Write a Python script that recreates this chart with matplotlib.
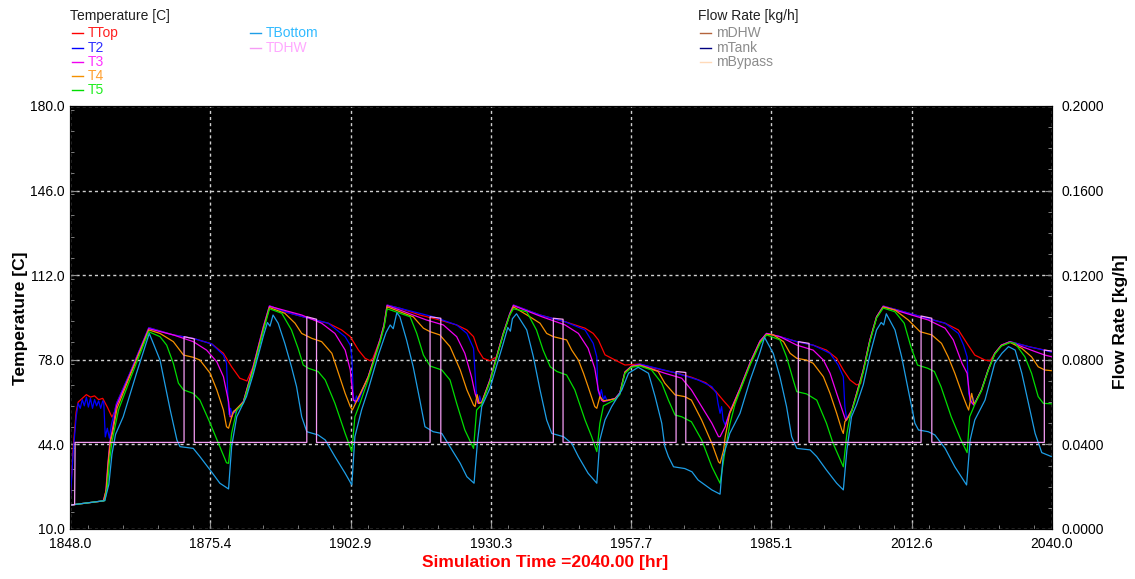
import matplotlib
matplotlib.use('Agg')
import matplotlib.pyplot as plt
from matplotlib.lines import Line2D
from matplotlib.ticker import MultipleLocator

plt.rcParams['font.family'] = ['Liberation Sans', 'DejaVu Sans']

W, H = 1135, 579

# axis ranges
time_start, time_end = 1848.0, 2040.0
temp_min, temp_max = 10.0, 180.0
flow_min, flow_max = 0.0, 0.2
sim_time_label = 'Simulation Time =2040.00 [hr]'

# (time [hr], temperature [C]) per sensor
ttop = [(1848.0, 19.6), (1848.6, 42.0), (1849.2, 57.0), (1849.6, 61.0), (1850.4, 62.5), (1851.2, 64.0),
        (1852.0, 63.0), (1852.8, 63.5), (1853.6, 62.0), (1854.4, 62.5), (1855.3, 59.0), (1856.2, 55.0),
        (1856.7, 57.0), (1857.1, 60.5), (1859.7, 72.6), (1863.4, 90.9),
        (1868.2, 88.0), (1872.1, 86.6), (1875.7, 84.4), (1878.0, 80.6), (1879.6, 75.2), (1881.2, 70.6),
        (1882.6, 69.5), (1883.8, 75.2), (1885.8, 91.3), (1887.0, 99.7),
        (1890.0, 97.3), (1894.6, 94.7), (1898.5, 92.7), (1901.1, 90.0), (1902.8, 87.3), (1904.4, 81.9),
        (1905.7, 78.6), (1906.7, 77.6), (1907.2, 78.5), (1908.6, 86.0), (1909.4, 92.0), (1910.0, 100.0),
        (1912.5, 98.7), (1916.4, 96.0), (1920.3, 94.0), (1923.6, 92.0), (1925.6, 90.0), (1926.9, 87.3),
        (1927.8, 81.9), (1928.8, 78.6), (1930.1, 77.6), (1931.4, 79.2), (1932.7, 88.6), (1934.0, 96.7),
        (1934.7, 100.0),
        (1939.9, 96.0), (1944.8, 93.3), (1948.7, 90.7), (1950.3, 88.6), (1951.3, 86.0), (1952.6, 80.0),
        (1954.6, 77.9), (1956.5, 75.9), (1959.4, 76.3),
        (1962.4, 74.6), (1966.3, 72.8), (1969.5, 71.0), (1972.3, 68.8), (1974.3, 65.2), (1975.8, 61.5),
        (1976.8, 59.2), (1977.3, 57.8), (1979.0, 66.5), (1981.0, 77.0), (1982.9, 85.5), (1984.2, 88.6),
        (1986.8, 87.3), (1990.1, 85.3), (1993.3, 83.9), (1995.9, 81.9), (1997.9, 78.6), (1999.2, 73.9),
        (2000.5, 69.9), (2001.8, 67.9), (2002.6, 68.5), (2003.1, 73.9), (2004.4, 86.0), (2005.7, 95.3),
        (2007.0, 99.6),
        (2009.3, 98.3), (2014.5, 95.3), (2019.1, 92.7), (2021.7, 90.0), (2023.6, 83.9), (2024.9, 79.9),
        (2026.9, 77.9), (2027.9, 77.6), (2028.8, 80.6), (2030.1, 83.9), (2031.8, 85.3), (2035.4, 83.3),
        (2038.6, 81.9), (2040.0, 81.3)]

t2 = [(1848.0, 19.6), (1848.6, 40.0), (1849.2, 55.0), (1849.6, 60.5), (1850.0, 58.5), (1850.4, 62.0),
      (1850.8, 59.5), (1851.2, 63.0), (1851.6, 59.0), (1852.0, 62.5), (1852.4, 58.5), (1852.8, 62.0),
      (1853.2, 59.5), (1853.6, 61.5), (1854.0, 58.5), (1854.4, 61.5), (1854.6, 61.0), (1854.9, 47.0),
      (1855.3, 50.5), (1855.7, 46.5), (1856.1, 52.0), (1856.5, 55.5), (1857.1, 60.5), (1859.7, 72.6),
      (1863.4, 90.9),
      (1868.2, 88.0), (1872.1, 86.6), (1875.7, 84.4), (1878.0, 79.9), (1878.6, 76.6), (1878.9, 62.0),
      (1879.1, 56.0), (1879.4, 58.5), (1879.7, 55.5), (1880.0, 57.5), (1880.3, 56.6), (1881.9, 61.2),
      (1883.8, 75.2), (1885.8, 91.3), (1887.0, 99.7),
      (1890.0, 97.3), (1894.6, 94.7), (1898.5, 92.7), (1901.8, 87.3), (1902.8, 83.9), (1903.1, 79.2),
      (1903.4, 63.2), (1903.7, 60.5), (1904.0, 63.5), (1904.4, 61.2), (1904.7, 63.0), (1906.3, 71.2),
      (1908.6, 86.0), (1909.4, 92.0), (1910.0, 100.0),
      (1912.5, 98.7), (1919.0, 95.3), (1923.6, 92.0), (1925.6, 88.6), (1926.9, 82.6), (1927.4, 65.9),
      (1927.6, 63.0), (1927.9, 60.5), (1928.1, 63.5), (1928.5, 60.5), (1930.1, 69.9), (1931.4, 79.2),
      (1932.7, 88.6), (1934.0, 96.7), (1934.7, 100.0),
      (1939.9, 96.0), (1944.8, 93.3), (1948.7, 90.0), (1950.3, 84.6), (1951.0, 79.2), (1951.2, 65.9),
      (1951.6, 63.2), (1951.9, 66.0), (1952.3, 61.8), (1952.6, 63.5), (1953.0, 61.5), (1954.6, 62.5),
      (1955.5, 64.7), (1956.5, 73.1), (1957.8, 75.5), (1959.4, 76.3),
      (1966.3, 72.8), (1970.8, 69.9), (1973.5, 67.2), (1974.4, 64.5), (1974.7, 60.5), (1975.1, 56.5),
      (1975.4, 59.2), (1975.7, 53.8), (1976.1, 51.8), (1977.0, 57.0), (1979.0, 66.5), (1981.0, 77.0),
      (1982.9, 85.5), (1984.2, 88.6),
      (1986.8, 87.3), (1990.1, 85.3), (1993.3, 83.9), (1996.6, 80.6), (1998.2, 75.9), (1999.2, 71.2),
      (1999.5, 59.2), (1999.9, 53.8), (2000.2, 55.5), (2000.5, 54.5), (2000.9, 58.0), (2001.8, 64.5),
      (2003.1, 73.9), (2004.4, 86.0), (2005.7, 95.3), (2007.0, 99.6),
      (2009.3, 98.3), (2014.5, 95.3), (2019.1, 92.7), (2021.7, 88.6), (2022.7, 83.9), (2023.4, 79.2),
      (2023.7, 64.5), (2024.2, 60.5), (2024.5, 63.0), (2024.9, 60.5), (2026.2, 65.9), (2027.5, 73.9),
      (2028.8, 80.6), (2030.1, 83.9), (2031.8, 85.3), (2035.4, 83.3), (2038.6, 81.8), (2040.0, 81.0)]

t3 = [(1848.0, 19.6), (1854.5, 21.3), (1855.0, 25.0), (1855.4, 36.0), (1855.8, 45.0), (1856.3, 50.0),
      (1857.1, 59.5), (1859.7, 72.0), (1863.4, 90.5),
      (1868.2, 88.0), (1872.1, 85.3), (1874.7, 81.9), (1876.7, 77.2), (1878.0, 71.2), (1879.0, 61.2),
      (1879.3, 55.1), (1879.6, 55.1), (1879.9, 56.6), (1881.9, 61.2), (1883.8, 75.0), (1885.8, 91.0),
      (1887.0, 99.5),
      (1893.3, 96.0), (1897.2, 92.7), (1899.8, 88.6), (1901.8, 81.9), (1902.8, 73.9), (1903.4, 61.8),
      (1904.0, 61.2), (1904.4, 62.6), (1906.3, 71.2), (1908.6, 86.0), (1909.4, 92.0), (1910.0, 99.8),
      (1912.5, 98.0), (1917.7, 94.0), (1921.0, 92.0), (1923.6, 87.3), (1925.2, 80.6), (1926.5, 71.2),
      (1927.2, 64.5), (1927.8, 60.5), (1928.5, 61.0), (1930.1, 69.9), (1931.4, 79.2), (1932.7, 88.6),
      (1934.0, 96.5), (1934.7, 99.8),
      (1940.0, 95.5), (1944.8, 92.0), (1947.4, 88.6), (1949.3, 82.6), (1950.6, 74.6), (1951.3, 65.9),
      (1951.9, 61.8), (1952.3, 61.2), (1954.6, 62.5), (1955.5, 64.7), (1956.5, 73.1), (1957.8, 75.5),
      (1959.4, 76.0),
      (1964.3, 72.6), (1967.6, 70.6), (1969.5, 65.9), (1971.5, 59.2), (1973.5, 52.5), (1974.8, 47.1),
      (1975.1, 47.1), (1976.1, 51.1), (1977.0, 57.0), (1979.0, 66.5), (1981.0, 77.0), (1982.9, 85.5),
      (1984.2, 88.6),
      (1986.8, 87.3), (1990.1, 83.9), (1993.3, 81.9), (1995.3, 77.9), (1996.6, 72.6), (1997.9, 64.5),
      (1999.2, 56.5), (1999.7, 53.5), (2000.2, 55.5), (2000.9, 58.0), (2001.8, 64.5), (2003.1, 73.9),
      (2004.4, 86.0), (2005.7, 95.3), (2007.0, 99.4),
      (2009.3, 98.0), (2015.8, 94.0), (2019.1, 90.7), (2020.7, 86.0), (2022.4, 76.6), (2023.4, 72.6),
      (2024.0, 61.8), (2024.7, 59.8), (2024.9, 60.5), (2026.2, 65.9), (2027.5, 73.9), (2028.8, 80.6),
      (2030.1, 83.9), (2031.8, 85.3), (2034.1, 83.3), (2036.7, 81.3), (2038.6, 79.9), (2040.0, 79.2)]

t4 = [(1848.0, 19.6), (1854.6, 21.3), (1855.1, 26.0), (1855.5, 37.0), (1855.9, 45.0), (1856.4, 49.5),
      (1857.2, 58.5), (1859.7, 71.5), (1863.4, 90.0),
      (1865.6, 88.6), (1868.2, 85.3), (1870.2, 79.9), (1872.1, 79.0), (1873.4, 77.9), (1875.4, 72.6),
      (1876.7, 65.9), (1878.0, 57.8), (1878.6, 51.1), (1879.0, 50.5), (1879.9, 57.0), (1881.9, 61.0),
      (1883.8, 74.5), (1885.8, 90.5), (1887.0, 99.0),
      (1890.0, 96.7), (1892.0, 92.7), (1893.3, 88.6), (1895.3, 86.6), (1897.2, 85.3), (1899.2, 80.6),
      (1900.5, 72.6), (1901.8, 64.5), (1902.8, 59.2), (1903.2, 57.8), (1904.0, 61.2), (1906.3, 71.0),
      (1908.6, 85.5), (1909.4, 91.5), (1910.0, 99.3),
      (1915.1, 95.3), (1917.1, 90.7), (1918.4, 89.3), (1920.3, 88.0), (1922.3, 83.3), (1924.3, 73.9),
      (1925.6, 65.9), (1926.9, 59.8), (1927.2, 59.2), (1927.6, 64.0), (1928.0, 60.5), (1928.5, 60.8),
      (1930.1, 69.5), (1931.4, 79.0), (1932.7, 88.3), (1934.0, 96.2), (1934.7, 99.3),
      (1937.9, 95.3), (1939.9, 92.7), (1941.2, 88.6), (1942.5, 87.3), (1945.1, 86.0), (1946.1, 81.9),
      (1947.4, 77.9), (1948.4, 72.6), (1949.3, 67.2), (1950.6, 59.2), (1951.0, 58.5), (1951.6, 63.2),
      (1952.3, 61.5), (1954.6, 62.3), (1955.5, 64.5), (1956.5, 73.0), (1957.8, 75.3), (1959.4, 75.8),
      (1963.0, 73.3), (1964.3, 68.6), (1966.3, 63.9), (1968.2, 63.2), (1969.5, 61.8), (1971.5, 53.8),
      (1973.5, 44.4), (1974.8, 37.0), (1975.1, 36.4), (1975.8, 41.8), (1976.1, 47.0), (1977.0, 56.5),
      (1979.0, 66.0), (1981.0, 76.5), (1982.9, 85.0), (1984.2, 88.2),
      (1985.5, 88.0), (1987.5, 85.3), (1988.8, 80.6), (1990.1, 78.6), (1992.0, 77.9), (1993.3, 76.6),
      (1995.3, 71.2), (1996.6, 64.5), (1997.9, 56.5), (1998.9, 49.8), (1999.2, 48.4), (1999.5, 53.1),
      (2000.2, 55.0), (2000.9, 57.8), (2001.8, 64.3), (2003.1, 73.6), (2004.4, 85.7), (2005.7, 95.0),
      (2007.0, 99.2),
      (2009.3, 98.0), (2011.9, 94.0), (2014.2, 89.3), (2016.5, 88.0), (2018.4, 84.6), (2019.7, 79.2),
      (2021.0, 72.6), (2022.4, 64.5), (2023.4, 59.2), (2023.7, 57.8), (2024.3, 64.5), (2024.7, 60.5),
      (2024.9, 60.5), (2026.2, 65.7), (2027.5, 73.7), (2028.8, 80.4), (2030.1, 83.7), (2031.8, 85.0),
      (2034.1, 82.6), (2036.0, 79.2), (2037.3, 75.2), (2038.6, 73.9), (2040.0, 73.6)]

t5 = [(1848.0, 19.6), (1854.8, 21.4), (1855.3, 27.0), (1855.7, 37.0), (1856.2, 45.0), (1856.7, 50.0),
      (1857.5, 58.0), (1859.9, 71.0), (1863.4, 89.3),
      (1865.6, 87.3), (1866.9, 83.9), (1868.2, 76.6), (1869.2, 68.6), (1870.2, 65.9), (1872.1, 64.5),
      (1873.4, 61.8), (1875.4, 52.5), (1877.3, 43.1), (1878.6, 36.6), (1879.0, 36.4), (1879.6, 48.4),
      (1880.6, 57.8), (1881.9, 60.5), (1883.8, 73.5), (1885.8, 89.5), (1887.0, 98.5),
      (1889.4, 96.7), (1891.3, 90.0), (1892.6, 82.6), (1893.6, 75.9), (1894.6, 74.6), (1896.5, 73.3),
      (1897.9, 69.9), (1899.8, 60.5), (1901.8, 48.4), (1903.1, 41.1), (1903.7, 55.1), (1904.7, 60.5),
      (1906.3, 70.0), (1908.6, 85.0), (1909.4, 91.0), (1910.0, 98.5),
      (1914.5, 95.3), (1915.8, 88.6), (1917.1, 79.9), (1918.4, 75.5), (1920.7, 73.9), (1922.3, 69.9),
      (1923.6, 60.5), (1925.2, 49.8), (1926.9, 42.4), (1927.5, 57.8), (1928.5, 60.0), (1930.1, 69.0),
      (1931.4, 78.5), (1932.7, 88.0), (1934.0, 96.0), (1934.7, 98.5),
      (1937.3, 97.3), (1939.2, 90.0), (1940.5, 81.9), (1941.9, 75.2), (1943.2, 73.3), (1945.1, 71.9),
      (1946.7, 65.9), (1948.7, 53.8), (1950.0, 47.1), (1951.0, 41.1), (1951.6, 52.5), (1952.3, 59.5),
      (1954.6, 62.0), (1955.5, 64.0), (1956.5, 72.5), (1957.8, 75.0), (1959.4, 75.5),
      (1961.7, 73.9), (1963.7, 68.6), (1965.0, 61.8), (1966.3, 55.8), (1967.6, 55.1), (1969.5, 53.1),
      (1971.5, 45.8), (1973.5, 35.0), (1975.1, 28.4), (1976.1, 41.8), (1977.0, 52.0), (1978.0, 60.0),
      (1979.0, 65.5), (1981.0, 76.0), (1982.9, 84.5), (1984.2, 88.0),
      (1986.8, 86.0), (1988.1, 79.2), (1989.4, 69.9), (1990.1, 65.2), (1992.0, 64.3), (1994.0, 61.8),
      (1995.9, 52.5), (1997.2, 44.4), (1999.2, 35.0), (1999.9, 48.4), (2000.5, 55.1), (2001.8, 63.5),
      (2003.1, 73.0), (2004.4, 85.3), (2005.7, 94.8), (2007.0, 98.8),
      (2009.3, 97.3), (2011.1, 92.7), (2012.4, 83.3), (2013.7, 75.9), (2015.7, 74.6), (2017.0, 73.3),
      (2018.3, 67.2), (2020.3, 55.1), (2022.2, 45.8), (2023.4, 40.7), (2023.9, 55.1), (2024.9, 60.0),
      (2026.2, 65.5), (2027.5, 73.5), (2028.8, 80.2), (2030.1, 83.5), (2031.8, 85.0), (2032.8, 84.6),
      (2034.7, 79.2), (2036.0, 72.6), (2037.3, 63.2), (2038.3, 60.5), (2040.0, 60.3)]

tbottom = [(1848.0, 19.6), (1854.8, 21.4), (1855.6, 28.0), (1856.2, 40.0), (1856.9, 48.0), (1858.4, 55.1),
           (1861.0, 72.6), (1863.5, 88.6),
           (1865.6, 77.9), (1867.6, 57.8), (1868.9, 45.8), (1869.5, 43.1), (1872.1, 42.4), (1873.4, 39.1),
           (1875.4, 33.7), (1877.3, 28.4), (1879.0, 26.1), (1879.6, 43.1), (1880.6, 55.1), (1882.5, 63.2),
           (1883.8, 72.0), (1885.8, 87.5), (1886.6, 93.0), (1887.1, 91.5), (1887.7, 96.0),
           (1888.7, 92.7), (1890.0, 84.6), (1891.3, 75.2), (1892.3, 67.2), (1893.3, 55.1), (1894.3, 49.1),
           (1896.5, 47.8), (1897.9, 45.8), (1899.8, 39.1), (1901.8, 32.4), (1903.1, 27.7), (1903.7, 47.1),
           (1905.0, 57.8), (1906.3, 66.0), (1908.3, 80.0), (1909.8, 89.0), (1910.6, 92.0), (1911.2, 90.5),
           (1911.9, 96.9),
           (1912.5, 95.3), (1913.8, 86.0), (1915.1, 75.2), (1916.4, 61.8), (1917.4, 51.1), (1919.0, 49.1),
           (1920.7, 48.4), (1922.3, 43.1), (1924.3, 36.4), (1925.6, 31.0), (1927.0, 28.4), (1927.7, 45.8),
           (1928.5, 59.2), (1930.1, 66.5), (1931.4, 75.5), (1932.7, 84.5), (1933.6, 91.0), (1934.1, 89.5),
           (1934.5, 94.5), (1935.3, 96.5),
           (1937.3, 90.0), (1938.6, 79.2), (1939.9, 65.9), (1941.2, 53.8), (1942.2, 48.4), (1944.5, 47.1),
           (1946.1, 44.4), (1947.4, 39.1), (1949.3, 32.4), (1951.0, 28.4), (1951.6, 45.8), (1952.6, 53.8),
           (1953.9, 59.2), (1955.9, 65.9), (1957.2, 72.6), (1959.1, 75.0), (1961.1, 72.6), (1962.4, 63.2),
           (1963.7, 52.5), (1964.3, 43.1), (1965.0, 39.1), (1966.0, 35.0), (1968.2, 34.3), (1969.6, 33.0),
           (1970.8, 29.7), (1973.5, 25.7), (1975.1, 24.0), (1975.7, 39.1), (1977.0, 48.4), (1979.0, 56.5),
           (1981.0, 70.0), (1982.9, 81.0), (1983.8, 87.0),
           (1985.5, 80.6), (1986.8, 71.2), (1988.1, 59.2), (1989.1, 47.1), (1990.1, 42.4), (1992.7, 41.8),
           (1994.0, 39.1), (1995.9, 33.7), (1997.9, 28.4), (1999.2, 25.7), (1999.9, 41.8), (2000.8, 55.1),
           (2001.8, 60.0), (2003.1, 68.0), (2004.4, 80.0), (2005.7, 90.0), (2006.6, 93.0), (2007.1, 92.0),
           (2007.6, 96.5),
           (2009.3, 90.0), (2010.6, 79.2), (2011.9, 65.9), (2013.2, 52.5), (2013.9, 49.8), (2015.8, 49.1),
           (2017.1, 47.8), (2019.1, 42.4), (2021.0, 35.0), (2023.3, 27.7), (2024.0, 45.8), (2024.9, 53.8),
           (2026.9, 61.8), (2028.8, 76.6), (2030.2, 80.6), (2031.5, 83.3), (2032.8, 81.9), (2034.1, 72.6),
           (2035.4, 60.5), (2036.7, 48.4), (2038.0, 40.7), (2039.9, 39.1), (2040.0, 39.1)]

# hot water delivery temperature: set point with short draw-off peaks
tdhw = [(1848.0, 19.6), (1848.9, 19.8), (1849.0, 44.8), (1870.3, 44.8), (1870.3, 87.3), (1872.3, 86.4),
        (1872.3, 44.8), (1894.3, 44.8), (1894.3, 95.3), (1896.2, 94.3), (1896.2, 44.8), (1918.4, 44.8),
        (1918.4, 95.3), (1920.5, 94.7), (1920.5, 44.8), (1942.5, 44.8), (1942.5, 94.7), (1944.4, 94.3),
        (1944.4, 44.8), (1966.5, 44.8), (1966.5, 73.3), (1968.4, 72.9), (1968.4, 44.8), (1990.4, 44.8),
        (1990.4, 85.3), (1992.5, 84.6), (1992.5, 44.8), (2014.4, 44.8), (2014.4, 95.6), (2016.5, 94.7),
        (2016.5, 44.8), (2038.5, 44.8), (2038.5, 81.9), (2040.0, 81.5)]

temp_series = [
    ('TTop', ttop, '#ff0000', '#ff2020'),
    ('T2', t2, '#0000ff', '#3030ff'),
    ('T3', t3, '#f000f0', '#ff30ff'),
    ('T4', t4, '#f49000', '#ffa030'),
    ('T5', t5, '#00dd00', '#20ee20'),
    ('TBottom', tbottom, '#1e9ee6', '#33bbff'),
    ('TDHW', tdhw, '#f59cf5', '#ffa8ff'),
]

flow_series = [
    ('mDHW', '#b4643c'),
    ('mTank', '#000080'),
    ('mBypass', '#ffdab9'),
]


def px_x(x):
    return x / W


def px_y(y):
    return 1 - y / H


def legend_row(fig, x, y, label, line_color, text_color):
    fig.add_artist(Line2D([px_x(x), px_x(x + 11)], [px_y(y), px_y(y)], color=line_color, lw=1.0))
    fig.text(px_x(x + 16), px_y(y), label, color=text_color, fontsize=10, ha='left', va='center')


fig = plt.figure(figsize=(W / 100, H / 100), dpi=100)
fig.patch.set_facecolor('white')
ax = fig.add_axes([px_x(70), px_y(529), (1052 - 70) / W, (529 - 106) / H])
ax.set_facecolor('black')

for name, pts, color, _ in temp_series:
    ax.plot([p[0] for p in pts], [p[1] for p in pts], color=color, lw=0.9)

ax.set_xlim(time_start, time_end)
ax.set_ylim(temp_min, temp_max)

x_step = (time_end - time_start) / 7
x_major = [time_start + i * x_step for i in range(8)]
ax.set_xticks(x_major)
ax.set_xticklabels(['%.1f' % v for v in x_major])
ax.xaxis.set_minor_locator(MultipleLocator(x_step / 4))

y_step = (temp_max - temp_min) / 5
y_major = [temp_min + i * y_step for i in range(6)]
ax.set_yticks(y_major)
ax.set_yticklabels(['%.1f' % v for v in y_major])
ax.yaxis.set_minor_locator(MultipleLocator(y_step / 4))

ax.grid(True, which='major', color='#d0d0d0', linestyle=(0, (2.2, 2.2)), linewidth=1.0)
ax.tick_params(which='both', direction='in', color='#909090', labelcolor='black', labelsize=10)
ax.tick_params(which='major', length=5)
ax.tick_params(which='minor', length=3)
ax.tick_params(axis='x', pad=6)
ax.tick_params(axis='y', pad=4)
for spine in ax.spines.values():
    spine.set_color('black')

ax2 = ax.twinx()
ax2.set_ylim(flow_min, flow_max)
f_step = (flow_max - flow_min) / 5
f_major = [flow_min + i * f_step for i in range(6)]
ax2.set_yticks(f_major)
ax2.set_yticklabels(['%.4f' % v for v in f_major])
ax2.yaxis.set_minor_locator(MultipleLocator(f_step / 4))
ax2.tick_params(which='both', direction='in', color='#909090', labelcolor='black', labelsize=10, pad=7)
ax2.tick_params(which='major', length=5)
ax2.tick_params(which='minor', length=3)
for spine in ax2.spines.values():
    spine.set_color('black')

# axis titles
fig.text(px_x(20), px_y(318), 'Temperature [C]', rotation=90, ha='center', va='center',
         fontsize=12.5, fontweight='bold')
fig.text(px_x(1121), px_y(322), 'Flow Rate [kg/h]', rotation=90, ha='center', va='center',
         fontsize=12.5, fontweight='bold')
fig.text(px_x(545), px_y(563), sim_time_label, ha='center', va='center',
         fontsize=12.5, fontweight='bold', color='red')

# legends above the plot
fig.text(px_x(70), px_y(16), 'Temperature [C]', fontsize=10, ha='left', va='center', color='#202020')
rows = [33, 47.5, 62, 76, 90]
for i, (name, _, color, text_color) in enumerate(temp_series):
    if i < 5:
        legend_row(fig, 72, rows[i], name, color, text_color)
    else:
        legend_row(fig, 250, rows[i - 5], name, color, text_color)

fig.text(px_x(698), px_y(16), 'Flow Rate [kg/h]', fontsize=10, ha='left', va='center', color='#202020')
for i, (name, color) in enumerate(flow_series):
    legend_row(fig, 700, [33, 48, 62][i], name, color, '#8c8c8c')

fig.savefig('out.png', dpi=100)
